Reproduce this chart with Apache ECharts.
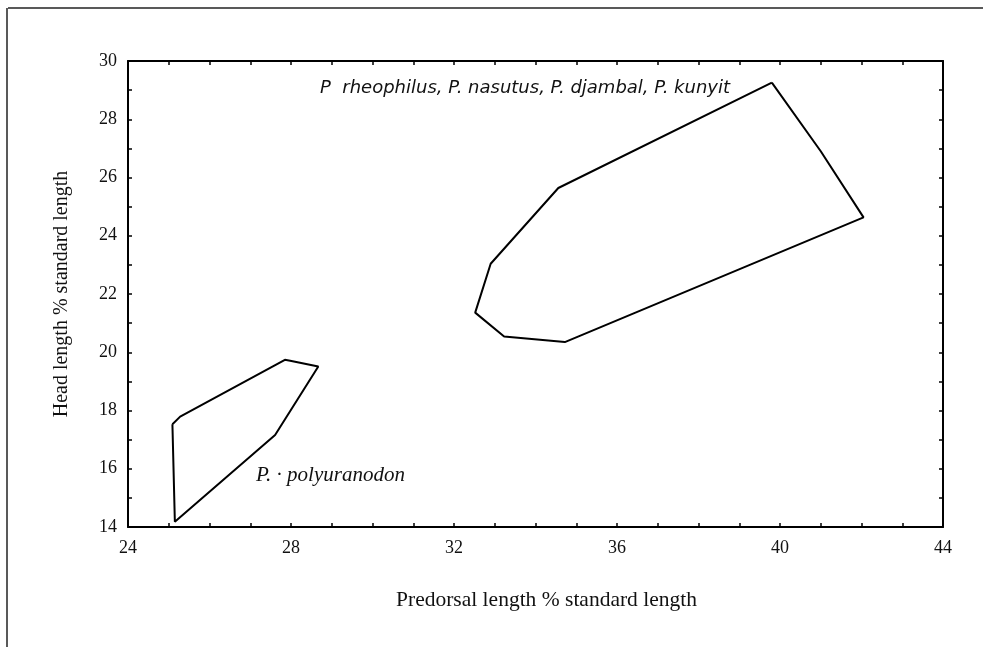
<!DOCTYPE html>
<html>
<head>
<meta charset="utf-8">
<script src="https://cdn.jsdelivr.net/npm/echarts@6/dist/echarts.min.js"></script>
<style>
  html, body { margin: 0; padding: 0; background: #fff; }
  #chart { width: 983px; height: 647px; }
</style>
</head>
<body>
<div id="chart"></div>
<script>
// Hull outline of the four-species group (predorsal %, head %)
const groupAX = [39.8, 41.0, 42.05, 34.72, 33.23, 32.52, 32.9, 34.56, 39.8];
const groupAY = [29.26, 26.9, 24.63, 20.35, 20.54, 21.36, 23.04, 25.64, 29.26];
const groupAName = 'P  rheophilus, P. nasutus, P. djambal, P. kunyit';

// Hull outline of P. polyuranodon
const groupBX = [25.09, 25.28, 27.85, 27.98, 28.67, 27.61, 25.15, 25.09];
const groupBY = [17.53, 17.79, 19.74, 19.71, 19.51, 17.16, 14.18, 17.53];
const groupBName = 'P. · polyuranodon';

const xTicks = [24, 28, 32, 36, 40, 44];
const yTicks = [14, 16, 18, 20, 22, 24, 26, 28, 30];

const xTitle = 'Predorsal length % standard length';
const yTitle = 'Head length % standard length';

const serif = '"Liberation Serif", "DejaVu Serif", serif';
const sans = '"DejaVu Sans", "Liberation Sans", sans-serif';

function pairs(xs, ys) { return xs.map((x, i) => [x, ys[i]]); }

const chart = echarts.init(document.getElementById('chart'), null, { renderer: 'canvas' });

const tickStyle = { color: '#000', width: 1.5 };
const frameLine = { show: true, lineStyle: { color: '#000', width: 2 } };

chart.setOption({
  animation: false,
  backgroundColor: '#fff',
  grid: { left: 128, right: 40, top: 61, bottom: 120 },
  xAxis: [
    {
      type: 'value', min: xTicks[0], max: xTicks[xTicks.length - 1], interval: 4,
      name: xTitle, nameLocation: 'middle', nameGap: 62,
      nameTextStyle: { fontFamily: serif, fontSize: 21.5, color: '#111', padding: [0, 0, 0, 22] },
      axisLine: frameLine,
      axisTick: { show: true, inside: true, length: 4, lineStyle: tickStyle },
      minorTick: { show: true, splitNumber: 4, length: 4, lineStyle: tickStyle },
      axisLabel: { fontFamily: serif, fontSize: 18, color: '#111', margin: 12 },
      splitLine: { show: false }
    },
    {
      type: 'value', position: 'top', min: xTicks[0], max: xTicks[xTicks.length - 1], interval: 4,
      axisLine: frameLine,
      axisTick: { show: true, inside: true, length: 4, lineStyle: tickStyle },
      minorTick: { show: true, splitNumber: 4, length: 4, lineStyle: tickStyle },
      axisLabel: { show: false },
      splitLine: { show: false }
    }
  ],
  yAxis: [
    {
      type: 'value', min: yTicks[0], max: yTicks[yTicks.length - 1], interval: 2,
      name: yTitle, nameLocation: 'middle', nameGap: 56,
      nameTextStyle: { fontFamily: serif, fontSize: 20, color: '#111' },
      axisLine: frameLine,
      axisTick: { show: true, inside: true, length: 4, lineStyle: tickStyle },
      minorTick: { show: true, splitNumber: 2, length: 4, lineStyle: tickStyle },
      axisLabel: { fontFamily: serif, fontSize: 18, color: '#111', margin: 11 },
      splitLine: { show: false }
    },
    {
      type: 'value', position: 'right', min: yTicks[0], max: yTicks[yTicks.length - 1], interval: 2,
      axisLine: frameLine,
      axisTick: { show: true, inside: true, length: 4, lineStyle: tickStyle },
      minorTick: { show: true, splitNumber: 2, length: 4, lineStyle: tickStyle },
      axisLabel: { show: false },
      splitLine: { show: false }
    }
  ],
  series: [
    {
      type: 'line', name: groupAName, data: pairs(groupAX, groupAY),
      symbol: 'none', lineStyle: { color: '#000', width: 2 }, z: 3
    },
    {
      type: 'line', name: groupBName, data: pairs(groupBX, groupBY),
      symbol: 'none', lineStyle: { color: '#000', width: 2 }, z: 3
    }
  ],
  graphic: [
    // page border (top and left edges)
    { type: 'line', shape: { x1: 8, y1: 8, x2: 983, y2: 8 }, style: { stroke: '#222', lineWidth: 1.5 } },
    { type: 'line', shape: { x1: 7, y1: 8, x2: 7, y2: 647 }, style: { stroke: '#222', lineWidth: 1.5 } },
    {
      type: 'text', left: 320, top: 79,
      style: { text: groupAName, font: 'italic 18px ' + sans, fill: '#111' }
    },
    {
      type: 'text', left: 256, top: 465,
      style: { text: groupBName, font: 'italic 21px ' + serif, fill: '#111' }
    }
  ]
});
</script>
</body>
</html>
